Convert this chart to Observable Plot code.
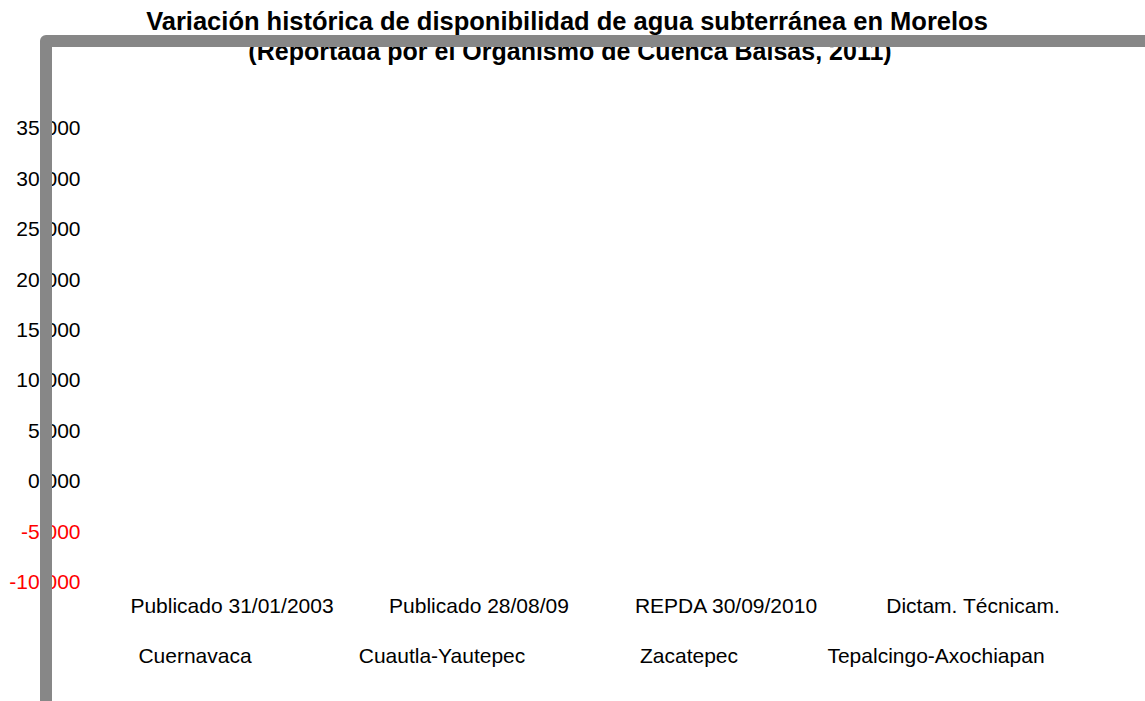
<!DOCTYPE html>
<html>
<head>
<meta charset="utf-8">
<script src="https://cdn.jsdelivr.net/npm/d3@7"></script>
<script src="https://cdn.jsdelivr.net/npm/@observablehq/plot@0.6"></script>
<style>
  html, body { margin: 0; padding: 0; background: #fff; }
  #chart { width: 1145px; height: 701px; overflow: hidden; }
</style>
</head>
<body>
<div id="chart"></div>
<script>
const titleText = "Variación histórica de disponibilidad de agua subterránea en Morelos";
const subtitleText = "(Reportada por el Organismo de Cuenca Balsas, 2011)";
const periods = ["Publicado 31/01/2003", "Publicado 28/08/09", "REPDA 30/09/2010", "Dictam. Técnicam."];
const aquifers = ["Cuernavaca", "Cuautla-Yautepec", "Zacatepec", "Tepalcingo-Axochiapan"];
const yTicks = [35000, 30000, 25000, 20000, 15000, 10000, 5000, 0, -5000, -10000];
const yTickLabels = ["35,000", "30,000", "25,000", "20,000", "15,000", "10,000", "5,000", "0,000", "-5,000", "-10,000"];

const tickRows = yTicks.map((v, i) => ({value: v, label: yTickLabels[i]}));
const catRows = periods.map((p, i) => ({period: p, aquifer: aquifers[i]}));

const font = "'Liberation Sans', Arial, sans-serif";

const chart = Plot.plot({
  width: 1145,
  height: 701,
  marginLeft: 110,
  marginRight: 47,
  marginTop: 128,
  marginBottom: 119,
  style: {fontFamily: font, fontSize: "21px", background: "white", overflow: "visible"},
  x: {type: "band", domain: periods, axis: null, padding: 0},
  y: {domain: [-10000, 35000], axis: null},
  marks: [
    Plot.text(tickRows.filter(d => d.value >= 0), {y: "value", text: "label", frameAnchor: "left", dx: -30, textAnchor: "end", fill: "black"}),
    Plot.text(tickRows.filter(d => d.value < 0), {y: "value", text: "label", frameAnchor: "left", dx: -30, textAnchor: "end", fill: "red"}),
    Plot.text(catRows, {x: "period", text: "period", frameAnchor: "bottom", dy: 30, dx: -2, fill: "black"}),
    Plot.text(catRows, {x: "period", text: "aquifer", frameAnchor: "bottom", dy: 80, dx: -39, fill: "black"})
  ]
});

const svg = d3.select(chart);
svg.append("text")
  .attr("x", 567).attr("y", 30)
  .attr("text-anchor", "middle")
  .attr("font-family", font).attr("font-weight", "bold").attr("font-size", 25.5)
  .attr("fill", "black")
  .text(titleText);
svg.append("text")
  .attr("x", 570).attr("y", 60)
  .attr("text-anchor", "middle")
  .attr("font-family", font).attr("font-weight", "bold").attr("font-size", 25)
  .attr("fill", "black")
  .text(subtitleText);
svg.append("path")
  .attr("d", "M46,701V41H1145")
  .attr("fill", "none")
  .attr("stroke", "#878787")
  .attr("stroke-width", 12)
  .attr("stroke-linejoin", "round");

document.getElementById("chart").appendChild(chart);
</script>
</body>
</html>
